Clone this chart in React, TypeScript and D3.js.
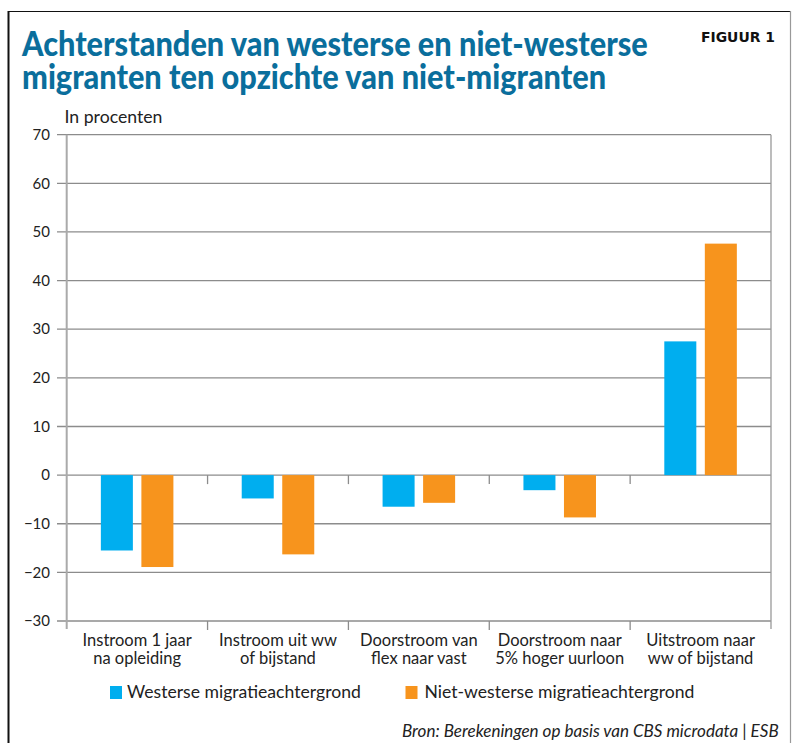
import React, { useLayoutEffect, useRef, useState } from "react";
import * as d3 from "d3";

const categories: string[][] = [
  ["Instroom 1 jaar", "na opleiding"],
  ["Instroom uit ww", "of bijstand"],
  ["Doorstroom van", "flex naar vast"],
  ["Doorstroom naar", "5% hoger uurloon"],
  ["Uitstroom naar", "ww of bijstand"],
];
const seriesNames = ["Westerse migratieachtergrond", "Niet-westerse migratieachtergrond"];
const westerse = [-15.5, -4.8, -6.5, -3.1, 27.5];
const nietWesterse = [-18.9, -16.3, -5.7, -8.7, 47.6];
const yTicks = [70, 60, 50, 40, 30, 20, 10, 0, -10, -20, -30];
const colors = ["#00aeef", "#f7941d"];
const titleLines = [
  "Achterstanden van westerse en niet-westerse",
  "migranten ten opzichte van niet-migranten",
];

const W = 792;
const H = 743;
const left = 66.7;
const right = 771;
const top = 134.7;
const bottom = 621;
const font = "Lato, 'Open Sans', sans-serif";

type FitProps = {
  x: number;
  y: number;
  width: number;
  children: string;
  [k: string]: any;
};

function FitText({ x, y, width, children, ...rest }: FitProps) {
  const ref = useRef<SVGTextElement>(null);
  const [sx, setSx] = useState(1);
  useLayoutEffect(() => {
    if (ref.current) {
      const natural = ref.current.getComputedTextLength();
      if (natural > 0) setSx(width / natural);
    }
  }, [width, children]);
  return (
    <text ref={ref} transform={`translate(${x},${y}) scale(${sx},1)`} {...rest}>
      {children}
    </text>
  );
}

function Title() {
  const ref = useRef<SVGTSpanElement>(null);
  const [sx, setSx] = useState(1);
  useLayoutEffect(() => {
    if (ref.current) {
      const natural = ref.current.getComputedTextLength();
      if (natural > 0) setSx(626 / natural);
    }
  }, []);
  return (
    <text
      transform={`translate(22,56) scale(${sx},1)`}
      fill="#0a6e9c"
      fontFamily={font}
      fontWeight={900}
      fontSize={35}
    >
      <tspan ref={ref} x={0} y={0}>
        {titleLines[0]}
      </tspan>
      <tspan x={0} y={33}>
        {titleLines[1]}
      </tspan>
    </text>
  );
}

export default function App() {
  const y = d3.scaleLinear().domain([-30, 70]).range([bottom, top]);
  const x = d3
    .scaleBand<number>()
    .domain(categories.map((_, i) => i))
    .range([left, right])
    .paddingInner(0)
    .paddingOuter(0);
  const bw = x.bandwidth();
  const xs = d3
    .scaleBand<number>()
    .domain([0, 1])
    .range([0, bw])
    .paddingInner(0.21)
    .paddingOuter(0.843);
  const series = [westerse, nietWesterse];
  const boundaries = categories.map((_, i) => x(i) as number).concat([right]);
  const gridColor = "#8c8c8c";
  const fmt = (v: number) => (v < 0 ? "\u2212" + Math.abs(v) : String(v));

  return (
    <svg
      width={W}
      height={H}
      style={{ position: "absolute", left: 0, top: 0, background: "#fff" }}
    >
      {/* frame */}
      <line x1={8} y1={11.5} x2={790} y2={11.5} stroke="#111" strokeWidth={1.2} />
      <line x1={8.5} y1={11} x2={8.5} y2={H} stroke="#111" strokeWidth={2} />
      <line x1={790.5} y1={11} x2={790.5} y2={H} stroke="#999" strokeWidth={1.2} />

      {/* title */}
      <Title />
      <FitText
        x={701}
        y={42}
        width={74}
        fill="#111"
        fontFamily="'DejaVu Sans', sans-serif"
        fontWeight={900}
        fontSize={14}
      >
        FIGUUR 1
      </FitText>
      <FitText x={64.5} y={122.5} width={98} fill="#222" fontFamily={font} fontSize={17}>
        In procenten
      </FitText>

      {/* gridlines and y ticks */}
      {yTicks.map((t) => (
        <g key={t}>
          <line x1={57} x2={right} y1={y(t)} y2={y(t)} stroke={gridColor} strokeWidth={1.3} />
          <text
            x={50}
            y={y(t)}
            dy="0.35em"
            textAnchor="end"
            fill="#222"
            fontFamily={font}
            fontSize={15}
          >
            {fmt(t)}
          </text>
        </g>
      ))}

      {/* axes */}
      <line x1={left} x2={left} y1={top} y2={bottom + 8} stroke="#aaa" strokeWidth={2} />
      <line x1={right} x2={right} y1={top} y2={bottom + 8} stroke="#999" strokeWidth={1.3} />
      {boundaries.slice(1, -1).map((b, i) => (
        <g key={i}>
          <line x1={b} x2={b} y1={y(0)} y2={y(0) + 9} stroke={gridColor} strokeWidth={1.3} />
          <line x1={b} x2={b} y1={bottom} y2={bottom + 9} stroke={gridColor} strokeWidth={1.3} />
        </g>
      ))}

      {/* bars */}
      {series.map((vals, si) =>
        vals.map((v, ci) => (
          <rect
            key={`${si}-${ci}`}
            x={(x(ci) as number) + (xs(si) as number)}
            width={xs.bandwidth()}
            y={y(Math.max(0, v))}
            height={Math.abs(y(v) - y(0))}
            fill={colors[si]}
          />
        ))
      )}

      {/* category labels */}
      {categories.map((lines, i) => (
        <text
          key={i}
          x={(x(i) as number) + bw / 2}
          textAnchor="middle"
          fill="#222"
          fontFamily={font}
          fontSize={16.5}
        >
          <tspan x={(x(i) as number) + bw / 2} y={645.5}>
            {lines[0]}
          </tspan>
          <tspan x={(x(i) as number) + bw / 2} y={664}>
            {lines[1]}
          </tspan>
        </text>
      ))}

      {/* legend */}
      <rect x={110} y={686} width={12} height={13} fill={colors[0]} />
      <FitText x={127} y={698} width={234} fill="#222" fontFamily={font} fontSize={17}>
        {seriesNames[0]}
      </FitText>
      <rect x={405.5} y={686} width={12} height={13} fill={colors[1]} />
      <FitText x={424.5} y={698} width={270} fill="#222" fontFamily={font} fontSize={17}>
        {seriesNames[1]}
      </FitText>

      {/* source */}
      <FitText
        x={402}
        y={736.5}
        width={377}
        fill="#222"
        fontFamily={font}
        fontStyle="italic"
        fontSize={16.5}
      >
        Bron: Berekeningen op basis van CBS microdata | ESB
      </FitText>
    </svg>
  );
}
